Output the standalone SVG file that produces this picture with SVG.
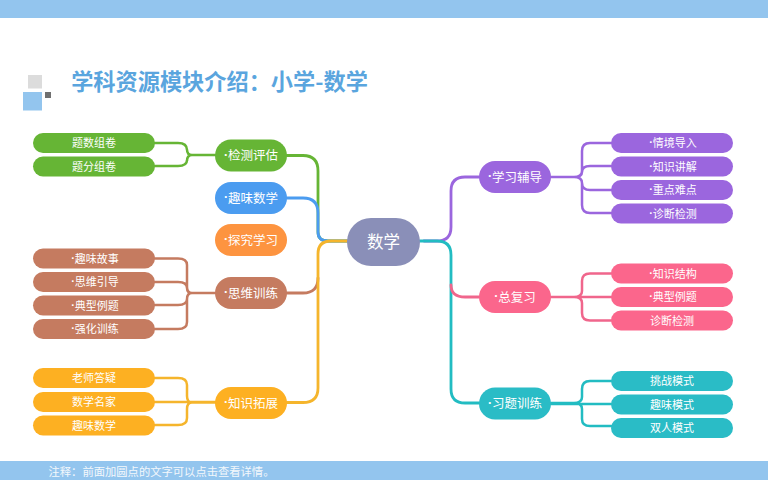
<svg xmlns="http://www.w3.org/2000/svg" width="768" height="480" viewBox="0 0 768 480">
<style>
text{font-family:"Noto Sans CJK SC","Noto Sans",sans-serif;fill:#fff;text-anchor:middle;dominant-baseline:central}
.l{font-size:11px}.m{font-size:12.500px}
tspan{font-family:"Liberation Sans",sans-serif;font-weight:700}
.c{fill:none;stroke-width:2.800;stroke-linecap:round}
.c.t{stroke-width:2.500}
.g{fill:#66b535}.gs{stroke:#66b535}
.b{fill:#4b9cf0}.bs{stroke:#4b9cf0}
.o{fill:#fd9440}
.r{fill:#c57b60}.rs{stroke:#c57b60}
.y{fill:#fdb022}.ys{stroke:#f5b52c}
.p{fill:#9b66de}.ps{stroke:#9b66de}
.k{fill:#fb668c}.ks{stroke:#f0668c}
.e{fill:#2abcc6}.es{stroke:#22bcc2}
</style>
<rect width="768" height="18" fill="#93c5ee"/>
<rect y="461" width="768" height="19" fill="#93c5ee"/>
<rect x="28" y="75" width="14" height="13.500" fill="#dcdcdc"/>
<rect x="23" y="92" width="19" height="18.500" fill="#93c5ee"/>
<rect x="45" y="92" width="6" height="6" fill="#707070"/>
<text x="219.500" y="79.500" style="font-size:22.200px;font-weight:700;fill:#5aa5de">学科资源模块介绍：小学-数学</text>
<text x="161.500" y="471" style="font-size:11.300px;fill:#f4f8fc">注释：前面加圆点的文字可以点击查看详情。</text>
<g id="connectors">
<path class="c gs" d="M287 155.500H303Q318 155.500 318 171V232Q318 241 328 241H347"/>
<path class="c bs" d="M287 198H303Q318 198 318 213V232Q318 241 328 241H347"/>
<path class="c rs" d="M287 293H303Q318 293 318 278"/>
<path class="c ys" d="M287 402.500H303Q318 402.500 318 388V254Q318 241 331 241H347"/>
<path class="c ps" d="M424 241H437Q451 241 451 227V191Q451 177 465 177H479"/>
<path class="c es" d="M420 241H437Q451 241 451 255V389Q451 403 465 403H479"/>
<path class="c ks" d="M451 285Q451 297 465 297H479"/>
<path class="c gs t" d="M155 143H178Q187 143 187 150V149.500Q187 155 192 155H215M155 166H178Q187 166 187 160V161Q187 155 192 155"/>
<path class="c rs t" d="M155 258.500H178Q187 258.500 187 265V287Q187 293 192 293H215M155 282H178Q187 282 187 288V288Q187 293 192 293M155 305H178Q187 305 187 299V299Q187 293 192 293M155 329H178Q187 329 187 322V299Q187 293 192 293"/>
<path class="c ys t" d="M155 378H178Q187 378 187 385V396Q187 402.500 192 402.500H215M155 402H215M155 425H178Q187 425 187 418V409Q187 402.500 192 402.500"/>
<path class="c ps t" d="M551 177H574Q582 177 582 171V151Q582 143 590 143H611M574 177Q582 177 582 172Q582 166 590 166H611M574 177Q582 177 582 183Q582 190 590 190H611M574 177Q582 177 582 183V205Q582 213 590 213H611"/>
<path class="c ks t" d="M551 297H574Q582 297 582 291V281Q582 273.500 590 273.500H611M551 297H611M574 297Q582 297 582 303V313Q582 320.500 590 320.500H611"/>
<path class="c es t" d="M551 403H574Q582 403 582 397V389Q582 381 590 381H611M551 404H611M574 403Q582 403 582 409V419Q582 426 590 426H611"/>
</g>
<g id="center"><rect x="347" y="218" width="73" height="48" rx="24" fill="#8a8fb8"/><text x="383.500" y="240.500" style="font-size:16.500px">数学</text></g>
<g id="n-jiance"><rect class="g" x="215" y="139.500" width="72" height="32" rx="16"/><text class="m" x="251" y="154.500"><tspan>·</tspan>检测评估</text></g>
<g id="n-quwei"><rect class="b" x="215" y="182" width="72" height="32" rx="16"/><text class="m" x="251" y="197"><tspan>·</tspan>趣味数学</text></g>
<g id="n-tanjiu"><rect class="o" x="215" y="224" width="72" height="32" rx="16"/><text class="m" x="251" y="239"><tspan>·</tspan>探究学习</text></g>
<g id="n-siwei"><rect class="r" x="215" y="277" width="72" height="32" rx="16"/><text class="m" x="251" y="292"><tspan>·</tspan>思维训练</text></g>
<g id="n-zhishi"><rect class="y" x="215" y="387" width="72" height="32" rx="16"/><text class="m" x="251" y="402"><tspan>·</tspan>知识拓展</text></g>
<g id="n-xuexi"><rect class="p" x="479" y="161" width="72" height="32" rx="16"/><text class="m" x="515" y="176"><tspan>·</tspan>学习辅导</text></g>
<g id="n-zongfuxi"><rect class="k" x="479" y="281" width="72" height="32" rx="16"/><text class="m" x="515" y="296"><tspan>·</tspan>总复习</text></g>
<g id="n-xiti"><rect class="e" x="479" y="387.500" width="72" height="32" rx="16"/><text class="m" x="515" y="402.500"><tspan>·</tspan>习题训练</text></g>
<g id="l1"><rect class="g" x="33" y="133" width="122" height="20" rx="10"/><text class="l" x="94" y="142">题数组卷</text></g>
<g id="l2"><rect class="g" x="33" y="156.500" width="122" height="20" rx="10"/><text class="l" x="94" y="165.500">题分组卷</text></g>
<g id="l3"><rect class="r" x="33" y="248.500" width="122" height="20" rx="10"/><text class="l" x="95" y="257.500"><tspan>·</tspan>趣味故事</text></g>
<g id="l4"><rect class="r" x="33" y="272" width="122" height="20" rx="10"/><text class="l" x="95" y="281"><tspan>·</tspan>思维引导</text></g>
<g id="l5"><rect class="r" x="33" y="295.500" width="122" height="20" rx="10"/><text class="l" x="95" y="304.500"><tspan>·</tspan>典型例题</text></g>
<g id="l6"><rect class="r" x="33" y="319" width="122" height="20" rx="10"/><text class="l" x="95" y="328"><tspan>·</tspan>强化训练</text></g>
<g id="l7"><rect class="y" x="33" y="368" width="122" height="20" rx="10"/><text class="l" x="94" y="377">老师答疑</text></g>
<g id="l8"><rect class="y" x="33" y="392" width="122" height="20" rx="10"/><text class="l" x="94" y="400.500">数学名家</text></g>
<g id="l9"><rect class="y" x="33" y="415.500" width="122" height="20" rx="10"/><text class="l" x="94" y="424.500">趣味数学</text></g>
<g id="r1"><rect class="p" x="611" y="133" width="122" height="20" rx="10"/><text class="l" x="673" y="142"><tspan>·</tspan>情境导入</text></g>
<g id="r2"><rect class="p" x="611" y="156.500" width="122" height="20" rx="10"/><text class="l" x="673" y="165.500"><tspan>·</tspan>知识讲解</text></g>
<g id="r3"><rect class="p" x="611" y="180" width="122" height="20" rx="10"/><text class="l" x="673" y="189"><tspan>·</tspan>重点难点</text></g>
<g id="r4"><rect class="p" x="611" y="203.500" width="122" height="20" rx="10"/><text class="l" x="673" y="212.500"><tspan>·</tspan>诊断检测</text></g>
<g id="r5"><rect class="k" x="611" y="263.500" width="122" height="20" rx="10"/><text class="l" x="673" y="272.500"><tspan>·</tspan>知识结构</text></g>
<g id="r6"><rect class="k" x="611" y="287" width="122" height="20" rx="10"/><text class="l" x="673" y="296"><tspan>·</tspan>典型例题</text></g>
<g id="r7"><rect class="k" x="611" y="310.500" width="122" height="20" rx="10"/><text class="l" x="672" y="319.500">诊断检测</text></g>
<g id="r8"><rect class="e" x="611" y="371" width="122" height="20" rx="10"/><text class="l" x="672" y="380">挑战模式</text></g>
<g id="r9"><rect class="e" x="611" y="394.500" width="122" height="20" rx="10"/><text class="l" x="672" y="403.500">趣味模式</text></g>
<g id="r10"><rect class="e" x="611" y="418" width="122" height="20" rx="10"/><text class="l" x="672" y="427">双人模式</text></g>
</svg>
